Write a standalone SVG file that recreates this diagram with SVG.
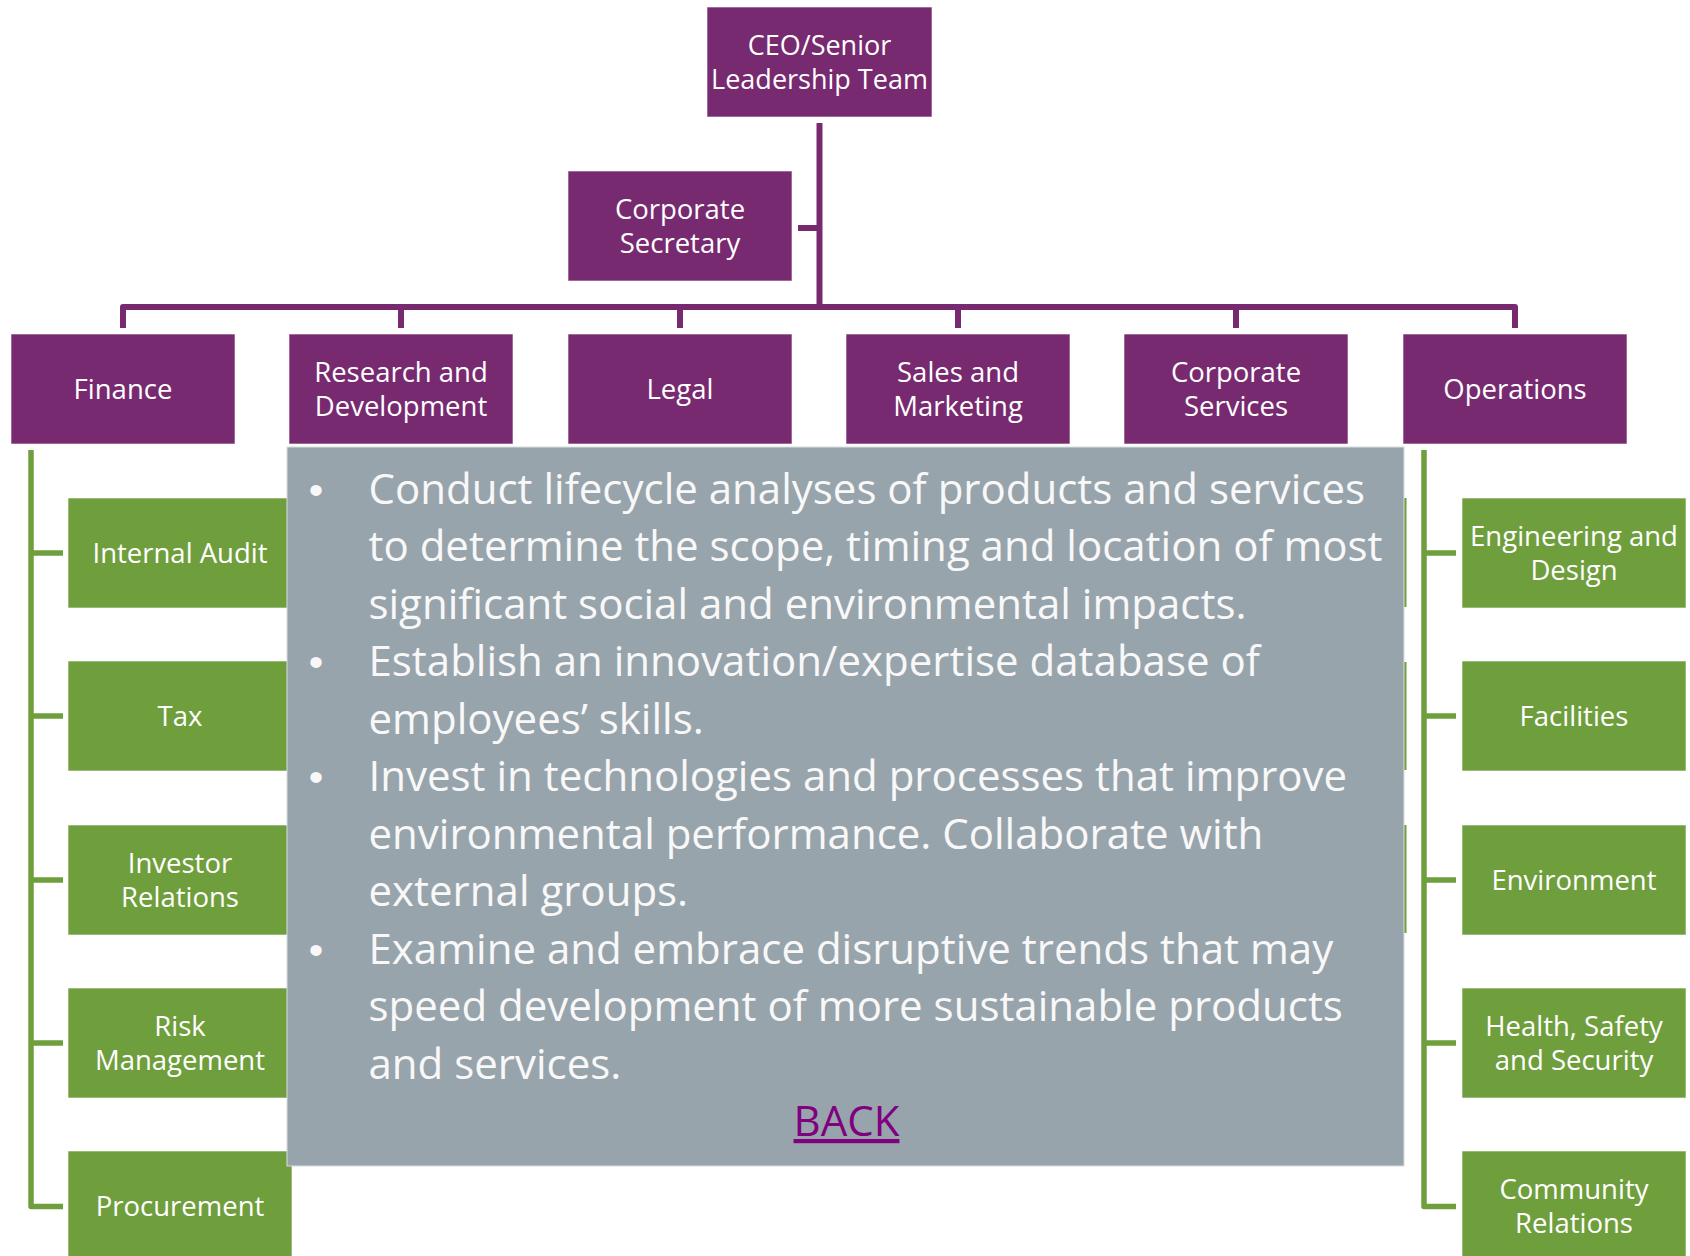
<svg xmlns="http://www.w3.org/2000/svg" width="1690" height="1256" viewBox="0 0 1690 1256">
<style>
  .p { fill: #782A70; stroke: #ffffff; stroke-opacity: 0.6; stroke-width: 1; }
  .g { fill: #6F9E3D; stroke: #ffffff; stroke-opacity: 0.6; stroke-width: 1; }
  .t { font-family: "Open Sans", "Noto Sans", sans-serif; font-size: 27.5px; fill: #ffffff; text-anchor: middle; }
  .pl { fill: none; stroke: #782A70; stroke-width: 6; stroke-linejoin: round; stroke-linecap: butt; }
  .gl { fill: none; stroke: #6F9E3D; stroke-width: 5.5; stroke-linejoin: round; stroke-linecap: butt; }
  .ov { font-family: "Open Sans", "Noto Sans", sans-serif; font-size: 42px; fill: #F8F8F8; }
  .bu { font-family: "Liberation Sans", Arial, sans-serif; font-size: 41.5px; fill: #F8F8F8; text-anchor: middle; }
</style>
<rect width="1690" height="1256" fill="#ffffff"/>

<g id="connectors">
  <path class="pl" d="M819.5,123 V307"/>
  <path class="pl" d="M798,228 H819.5"/>
  <path class="pl" d="M123,328 V307 H1515 V328"/>
  <path class="pl" d="M401,307 V328"/>
  <path class="pl" d="M680,307 V328"/>
  <path class="pl" d="M958,307 V328"/>
  <path class="pl" d="M1236,307 V328"/>
  <path class="gl" d="M31,450 V1206.5 H63"/>
  <path class="gl" d="M31,553 H63 M31,716 H63 M31,880 H63 M31,1043 H63"/>
  <path class="gl" d="M1424,450 V1206.5 H1456"/>
  <path class="gl" d="M1424,553 H1456 M1424,716 H1456 M1424,880 H1456 M1424,1043 H1456"/>
</g>

<g id="ceo"><rect class="p" x="707" y="7" width="225" height="110"/>
  <text class="t" x="819.5" y="54.5" style="font-size:27px">CEO/Senior</text><text class="t" x="819.5" y="89" style="font-size:27px">Leadership Team</text></g>
<g id="corporate-secretary"><rect class="p" x="568" y="171" width="224" height="110"/>
  <text class="t" x="680" y="218.5">Corporate</text><text class="t" x="680" y="253">Secretary</text></g>

<g id="finance"><rect class="p" x="11" y="334" width="224" height="110"/>
  <text class="t" x="123" y="399">Finance</text></g>
<g id="research"><rect class="p" x="289" y="334" width="224" height="110"/>
  <text class="t" x="401" y="381.5">Research and</text><text class="t" x="401" y="416">Development</text></g>
<g id="legal"><rect class="p" x="568" y="334" width="224" height="110"/>
  <text class="t" x="680" y="399">Legal</text></g>
<g id="sales"><rect class="p" x="846" y="334" width="224" height="110"/>
  <text class="t" x="958" y="381.5">Sales and</text><text class="t" x="958" y="416">Marketing</text></g>
<g id="corporate-services"><rect class="p" x="1124" y="334" width="224" height="110"/>
  <text class="t" x="1236" y="381.5">Corporate</text><text class="t" x="1236" y="416">Services</text></g>
<g id="operations"><rect class="p" x="1403" y="334" width="224" height="110"/>
  <text class="t" x="1515" y="399">Operations</text></g>

<g id="internal-audit"><rect class="g" x="68" y="498" width="224" height="110"/>
  <text class="t" x="180" y="563">Internal Audit</text></g>
<g id="tax"><rect class="g" x="68" y="661" width="224" height="110"/>
  <text class="t" x="180" y="726">Tax</text></g>
<g id="investor-relations"><rect class="g" x="68" y="825" width="224" height="110"/>
  <text class="t" x="180" y="872.5">Investor</text><text class="t" x="180" y="907">Relations</text></g>
<g id="risk-management"><rect class="g" x="68" y="988" width="224" height="110"/>
  <text class="t" x="180" y="1035.5">Risk</text><text class="t" x="180" y="1070">Management</text></g>
<g id="procurement"><rect class="g" x="68" y="1151" width="224" height="110"/>
  <text class="t" x="180" y="1216">Procurement</text></g>

<g id="engineering"><rect class="g" x="1462" y="498" width="224" height="110"/>
  <text class="t" x="1574" y="545.5">Engineering and</text><text class="t" x="1574" y="580">Design</text></g>
<g id="facilities"><rect class="g" x="1462" y="661" width="224" height="110"/>
  <text class="t" x="1574" y="726">Facilities</text></g>
<g id="environment"><rect class="g" x="1462" y="825" width="224" height="110"/>
  <text class="t" x="1574" y="890">Environment</text></g>
<g id="health-safety"><rect class="g" x="1462" y="988" width="224" height="110"/>
  <text class="t" x="1574" y="1035.5">Health, Safety</text><text class="t" x="1574" y="1070">and Security</text></g>
<g id="community-relations"><rect class="g" x="1462" y="1151" width="224" height="110"/>
  <text class="t" x="1574" y="1198.5">Community</text><text class="t" x="1574" y="1233">Relations</text></g>

<g id="hidden-edges" fill="#6F9E3D">
  <rect x="1400" y="498" width="6.5" height="109"/>
  <rect x="1400" y="662" width="6.5" height="108"/>
  <rect x="1400" y="825" width="6.5" height="108"/>
</g>

<g id="overlay">
  <rect x="287" y="447" width="1117" height="719" fill="#98A4AC" stroke="#D8DDE0" stroke-width="1"/>
  <text class="bu" x="316" y="503.5">•</text>
  <text class="bu" x="316" y="676">•</text>
  <text class="bu" x="316" y="791">•</text>
  <text class="bu" x="316" y="963.5">•</text>
  <text class="ov" x="368.5" y="503.5">Conduct lifecycle analyses of products and services</text>
  <text class="ov" x="368.5" y="561">to determine the scope, timing and location of most</text>
  <text class="ov" x="368.5" y="618.5">significant social and environmental impacts.</text>
  <text class="ov" x="368.5" y="676">Establish an innovation/expertise database of</text>
  <text class="ov" x="368.5" y="733.5">employees’ skills.</text>
  <text class="ov" x="368.5" y="791">Invest in technologies and processes that improve</text>
  <text class="ov" x="368.5" y="848.5">environmental performance. Collaborate with</text>
  <text class="ov" x="368.5" y="906">external groups.</text>
  <text class="ov" x="368.5" y="963.5">Examine and embrace disruptive trends that may</text>
  <text class="ov" x="368.5" y="1021">speed development of more sustainable products</text>
  <text class="ov" x="368.5" y="1078.5">and services.</text>
  <text class="ov" x="846.5" y="1136" style="fill:#800080; text-anchor:middle; text-decoration:underline;">BACK</text>
</g>
</svg>
